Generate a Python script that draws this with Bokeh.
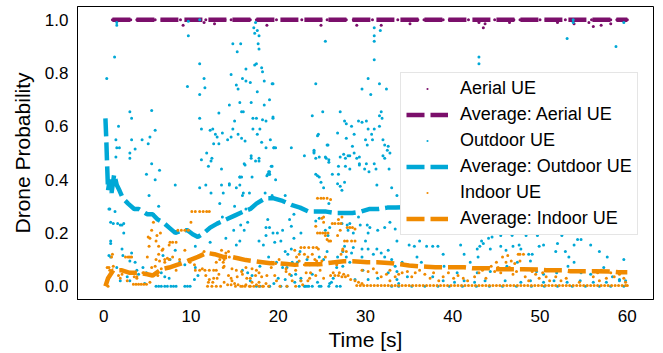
from bokeh.plotting import figure
from bokeh.models import Range1d, FixedTicker, PrintfTickFormatter, Legend, LegendItem
from bokeh.embed import file_html
from bokeh.resources import INLINE

# ---------------- data ----------------
x_ticks = [0, 10, 20, 30, 40, 50, 60]
y_ticks = [0.0, 0.2, 0.4, 0.6, 0.8, 1.0]

# Aerial UE samples lying on 1.0
aerial_top_t = [1.0, 1.6, 2.3, 3.1, 3.8, 4.4, 5.2, 5.9, 6.7, 7.3, 8.1, 8.8, 9.5, 10.2, 11.0,
                11.7, 12.4, 13.2, 13.9, 14.6, 15.3, 16.1, 16.8, 17.5, 18.3, 19.0, 19.8, 20.5,
                21.2, 22.0, 22.7, 23.4, 24.2, 24.9, 25.6, 26.4, 27.1, 27.8, 28.6, 29.3, 30.1,
                30.8, 31.5, 32.3, 33.0, 33.7, 34.5, 35.2, 36.0, 36.7, 37.4, 38.2, 38.9, 39.6,
                40.4, 41.1, 41.8, 42.6, 43.3, 44.1, 44.8, 45.5, 46.3, 47.0, 47.7, 48.5, 49.2,
                50.0, 50.7, 51.4, 52.2, 52.9, 53.6, 54.4, 55.1, 55.9, 56.6, 57.3, 58.1, 58.8,
                59.5, 60.0]
aerial_top_p = 1.0
# Aerial UE samples slightly below 1.0
aerial_low = [(9.1, 0.98), (11.5, 0.99), (12.7, 0.985), (18.7, 0.98), (24.9, 0.98), (29.0, 0.98),
              (31.8, 0.98), (35.1, 0.985), (43.0, 0.99), (43.5, 0.97), (43.7, 0.985), (53.9, 0.985),
              (55.6, 0.99), (56.1, 0.975), (57.0, 0.98), (58.1, 0.985), (52.0, 0.99), (46.5, 0.99)]

aerial_avg_t = [1.0, 10.0, 20.0, 30.0, 40.0, 50.0, 60.0]
aerial_avg_p = [1.0, 1.0, 1.0, 1.0, 1.0, 1.0, 1.0]

# Outdoor UE samples, upper part (p > 0.4)
outdoor_upper = [
    (0.35, 0.78), (1.25, 0.86), (1.5, 0.99), (1.5, 0.98), (1.7, 0.60), (1.4, 0.55), (1.5, 0.52),
    (1.8, 0.52), (1.4, 0.485), (3.0, 0.655), (3.2, 0.63), (3.2, 0.55), (3.0, 0.50), (3.0, 0.48),
    (3.6, 0.515), (4.4, 0.55), (5.1, 0.535), (5.3, 0.56), (5.5, 0.66), (5.9, 0.585), (5.5, 0.46),
    (4.9, 0.42), (6.4, 0.435), (9.7, 0.94), (9.6, 0.75), (9.7, 0.995), (11.0, 0.835), (11.0, 0.72),
    (11.5, 0.78), (11.6, 0.745), (11.0, 0.63), (11.2, 0.59), (11.2, 0.475), (11.8, 0.50),
    (12.2, 0.585), (12.5, 0.59), (12.8, 0.57), (13.0, 0.56), (12.0, 0.45), (12.3, 0.47),
    (12.4, 0.48), (12.6, 0.535), (13.2, 0.535), (13.5, 0.44), (13.2, 0.65), (13.6, 0.575),
    (14.2, 0.55), (14.4, 0.68), (14.6, 0.56), (14.8, 0.91), (15.3, 0.88), (15.7, 0.91),
    (14.6, 0.795), (15.2, 0.755), (15.4, 0.74), (15.9, 0.78), (16.3, 0.815), (16.3, 0.77),
    (16.8, 0.765), (15.6, 0.69), (15.8, 0.655), (16.0, 0.655), (15.0, 0.62), (14.8, 0.59),
    (15.4, 0.57), (15.8, 0.555), (16.2, 0.545), (15.6, 0.41), (16.2, 0.455), (16.9, 0.48),
    (17.1, 0.59), (17.1, 0.63), (16.9, 0.69), (17.0, 0.41), (17.3, 0.95), (17.2, 0.97),
    (17.4, 0.99), (17.6, 0.96), (17.8, 0.94), (17.3, 0.83), (17.5, 0.835), (17.7, 0.91),
    (17.8, 0.89), (18.1, 0.82), (18.2, 0.805), (17.6, 0.73), (18.4, 0.77), (19.0, 0.70),
    (18.4, 0.68), (17.5, 0.63), (17.9, 0.59), (17.6, 0.57), (18.2, 0.625), (18.6, 0.62),
    (18.1, 0.54), (18.6, 0.52), (19.1, 0.55), (19.4, 0.63), (19.5, 0.52), (19.7, 0.52),
    (19.3, 0.45), (18.8, 0.42), (19.0, 0.43), (17.8, 0.47), (19.3, 0.76), (21.5, 0.52),
    (23.9, 0.64), (24.1, 0.51), (24.3, 0.76), (24.6, 0.57), (24.7, 0.485), (25.1, 0.655),
    (25.4, 0.92), (25.5, 0.48), (25.7, 0.53), (24.7, 0.41), (25.8, 0.465), (11.0, 1.0),
    (16.1, 0.46), (16.9, 0.49), (17.4, 0.47), (17.8, 0.48), (18.7, 0.415), (18.9, 0.43),
    (19.2, 0.45), (19.0, 0.42), (19.7, 0.40), (23.0, 0.49), (24.1, 0.50), (24.3, 0.48),
    (25.4, 0.485), (25.8, 0.475), (26.2, 0.42), (27.1, 0.485), (28.0, 0.49), (28.2, 0.44),
    (29.3, 0.485), (29.3, 0.455), (29.9, 0.44), (30.4, 0.43), (31.2, 0.44), (32.2, 0.48),
    (32.8, 0.50), (26.9, 0.42), (24.5, 0.415), (31.0, 0.97), (31.0, 0.94), (31.0, 0.92),
    (31.7, 0.96), (31.0, 0.85), (43.0, 0.86), (43.0, 0.835), (53.8, 1.0), (53.8, 0.99),
    (53.1, 0.93), (58.7, 0.90), (59.6, 0.99), (30.3, 0.78), (29.6, 0.74), (30.6, 0.72),
    (31.6, 0.76), (32.4, 0.74), (27.1, 0.655), (27.6, 0.62), (27.8, 0.61), (28.4, 0.60),
    (26.8, 0.575), (27.8, 0.555), (28.7, 0.57), (29.2, 0.62), (29.6, 0.615), (30.1, 0.62),
    (30.3, 0.59), (30.7, 0.57), (31.0, 0.59), (30.8, 0.55), (31.6, 0.60), (31.6, 0.64),
    (31.8, 0.655), (31.9, 0.63), (30.0, 0.55), (30.2, 0.53), (32.0, 0.55), (32.2, 0.53),
    (32.6, 0.525), (32.5, 0.51), (28.5, 0.525), (28.7, 0.50), (28.2, 0.49), (27.5, 0.495),
    (27.7, 0.48), (29.0, 0.48), (29.3, 0.46), (30.1, 0.46), (31.0, 0.46), (32.0, 0.49),
    (32.7, 0.44), (26.9, 0.45), (27.7, 0.45), (19.4, 0.76), (19.4, 0.635), (24.5, 0.565),
    (25.6, 0.53), (24.1, 0.505), (19.5, 0.52)]

# Outdoor UE samples, t < 26 and p <= 0.4
outdoor_lower_a = [
    (5.9, 0.40), (5.2, 0.34), (6.3, 0.30), (5.7, 0.27), (8.2, 0.38), (0.6, 0.29), (0.7, 0.29),
    (1.3, 0.28), (0.8, 0.24), (1.9, 0.23), (2.3, 0.235), (2.3, 0.20), (0.8, 0.17), (0.8, 0.16),
    (0.6, 0.115), (0.8, 0.11), (2.1, 0.14), (2.2, 0.115), (3.2, 0.125), (3.6, 0.09), (3.0, 0.095),
    (1.5, 0.07), (2.2, 0.06), (2.7, 0.035), (3.8, 0.06), (4.0, 0.045), (4.5, 0.07), (4.9, 0.05),
    (4.7, 0.01), (1.9, 0.02), (3.0, 0.02), (6.0, 0.0), (6.3, 0.0), (6.6, 0.0), (7.0, 0.0),
    (7.3, 0.0), (7.7, 0.0), (8.0, 0.0), (8.3, 0.0), (9.3, 0.0), (9.6, 0.0), (9.9, 0.0),
    (6.6, 0.05), (7.0, 0.035), (7.5, 0.03), (6.8, 0.115), (7.6, 0.10), (8.2, 0.135), (8.7, 0.09),
    (9.3, 0.08), (9.8, 0.10), (10.5, 0.15), (10.5, 0.07), (10.8, 0.04), (10.4, 0.025),
    (11.0, 0.37), (11.7, 0.38), (12.3, 0.35), (12.2, 0.165), (13.5, 0.38), (13.7, 0.35),
    (13.3, 0.31), (14.4, 0.38), (15.2, 0.37), (15.6, 0.41), (16.0, 0.35), (16.7, 0.35),
    (16.3, 0.29), (15.2, 0.155), (15.9, 0.06), (16.5, 0.05), (17.0, 0.04), (16.8, 0.02),
    (17.5, 0.0), (17.9, 0.0), (19.0, 0.0), (19.5, 0.01), (18.6, 0.19), (19.0, 0.22), (19.9, 0.20),
    (20.3, 0.17), (20.8, 0.13), (21.0, 0.07), (21.6, 0.09), (22.0, 0.045), (22.6, 0.02),
    (23.1, 0.0), (23.5, 0.0), (23.9, 0.045), (24.5, 0.08), (24.7, 0.11), (25.2, 0.10),
    (25.6, 0.13), (24.9, 0.0), (25.9, 0.01), (19.0, 0.42), (20.8, 0.34), (21.3, 0.25),
    (21.8, 0.27), (22.6, 0.20), (24.3, 0.42), (24.9, 0.39), (25.2, 0.37), (1.1, 0.235),
    (1.6, 0.235), (2.1, 0.23), (14.4, 0.385), (15.6, 0.38), (15.8, 0.41), (18.5, 0.35),
    (19.3, 0.34), (15.9, 0.34), (15.0, 0.30), (13.6, 0.26), (14.9, 0.21), (15.7, 0.23),
    (16.1, 0.21), (16.5, 0.24), (14.0, 0.18), (15.6, 0.17), (18.8, 0.25), (18.6, 0.22),
    (19.4, 0.20), (20.5, 0.21), (21.5, 0.225), (21.8, 0.18), (19.6, 0.165), (18.3, 0.155),
    (17.8, 0.17), (21.5, 0.14), (21.1, 0.12), (22.2, 0.09), (22.5, 0.13), (23.3, 0.10),
    (23.6, 0.08), (19.8, 0.09), (20.5, 0.07), (18.9, 0.11), (17.9, 0.075), (20.0, 0.03),
    (20.8, 0.025), (21.5, 0.04), (22.6, 0.03), (21.9, 0.015), (22.4, 0.0), (23.0, 0.0),
    (23.3, 0.0), (23.9, 0.0), (24.5, 0.015), (20.3, 0.0), (21.0, 0.0), (19.0, 0.0)]

# Outdoor UE samples, t >= 24 and p <= 0.4
outdoor_lower_b = [
    (33.0, 0.37), (33.6, 0.34), (26.8, 0.385), (27.1, 0.375), (27.6, 0.39), (27.3, 0.36),
    (25.8, 0.31), (31.3, 0.38), (24.7, 0.255), (24.3, 0.245), (25.4, 0.21), (25.7, 0.19),
    (25.9, 0.22), (27.3, 0.235), (27.9, 0.23), (28.2, 0.235), (28.0, 0.21), (28.6, 0.20),
    (29.2, 0.26), (29.4, 0.23), (30.2, 0.23), (30.5, 0.22), (30.3, 0.20), (31.4, 0.21),
    (32.2, 0.22), (32.8, 0.24), (33.4, 0.215), (33.6, 0.17), (30.0, 0.17), (29.6, 0.14),
    (28.6, 0.145), (27.6, 0.15), (27.4, 0.13), (26.8, 0.11), (27.8, 0.11), (28.4, 0.125),
    (28.2, 0.09), (27.4, 0.075), (26.7, 0.07), (26.3, 0.03), (26.1, 0.015), (26.7, 0.0),
    (27.1, 0.0), (25.8, 0.0), (24.7, 0.0), (29.6, 0.11), (30.3, 0.14), (30.9, 0.12),
    (31.3, 0.14), (31.8, 0.125), (32.2, 0.11), (32.6, 0.135), (33.0, 0.10), (33.4, 0.075),
    (32.6, 0.05), (31.4, 0.03), (30.3, 0.025), (29.7, 0.06), (28.8, 0.025), (33.6, 0.025),
    (33.8, 0.01), (33.0, 0.0)]

# Outdoor UE samples, t > 33 below the legend
outdoor_lower_c = [
    (35.0, 0.155), (35.6, 0.15), (36.2, 0.17), (37.0, 0.15), (37.7, 0.15), (38.3, 0.15),
    (38.9, 0.12), (40.9, 0.155), (41.3, 0.12), (42.0, 0.09), (42.8, 0.14), (43.1, 0.15),
    (43.3, 0.17), (43.5, 0.16), (44.1, 0.18), (44.3, 0.14), (42.9, 0.11), (44.5, 0.185),
    (45.5, 0.19), (45.5, 0.15), (46.1, 0.135), (46.8, 0.19), (46.9, 0.15), (47.6, 0.155),
    (47.8, 0.14), (48.4, 0.19), (48.7, 0.12), (49.1, 0.12), (49.7, 0.19), (49.9, 0.15),
    (50.4, 0.155), (51.8, 0.13), (52.0, 0.16), (52.5, 0.19), (52.9, 0.13), (53.3, 0.11),
    (53.9, 0.155), (54.3, 0.175), (54.7, 0.175), (55.8, 0.155), (56.8, 0.13), (57.7, 0.11),
    (59.6, 0.10), (35.9, 0.11), (36.4, 0.09), (39.0, 0.075), (40.5, 0.05), (42.8, 0.05),
    (44.3, 0.055), (46.2, 0.075), (47.4, 0.09), (48.9, 0.095), (49.6, 0.055), (50.4, 0.045),
    (51.1, 0.06), (51.9, 0.05), (53.2, 0.075), (53.9, 0.09), (54.7, 0.05), (55.8, 0.045),
    (56.6, 0.055), (57.3, 0.07), (58.3, 0.035), (59.1, 0.025), (59.8, 0.02), (34.2, 0.09),
    (33.6, 0.055), (34.8, 0.035), (37.7, 0.035), (38.9, 0.02), (40.2, 0.015), (41.3, 0.02),
    (42.5, 0.015), (43.7, 0.02), (46.0, 0.02), (47.8, 0.015), (48.9, 0.02), (50.4, 0.015),
    (51.6, 0.02), (53.1, 0.015), (54.6, 0.02), (56.1, 0.015), (57.6, 0.015), (59.1, 0.02),
    (33.8, 0.0), (35.3, 0.0), (36.8, 0.0), (38.3, 0.0), (39.6, 0.0), (41.1, 0.0), (42.7, 0.0),
    (44.2, 0.0), (45.7, 0.0), (47.3, 0.0), (49.0, 0.0), (50.5, 0.0), (52.0, 0.0), (53.7, 0.0),
    (55.2, 0.0), (56.8, 0.0), (58.1, 0.0), (59.6, 0.0)]

outdoor_avg_t = [0.2, 0.3, 0.4, 0.5, 0.7, 0.9, 1.2, 1.5, 1.8, 2.2, 2.8, 3.5, 4.0, 4.5, 5.0, 5.6,
                 6.2, 6.8, 7.5, 8.2, 9.0, 9.6, 10.2, 10.8, 11.5, 12.2, 13.0, 14.0, 15.0, 16.0,
                 16.8, 17.5, 18.5, 19.5, 20.5, 21.5, 22.5, 23.5, 24.5, 25.5, 26.5, 27.5, 28.5,
                 29.5, 30.5, 31.5, 32.5, 33.5, 36.0, 40.0, 45.0, 50.0, 55.0, 60.0]
outdoor_avg_p = [0.63, 0.55, 0.45, 0.36, 0.40, 0.35, 0.42, 0.38, 0.36, 0.33, 0.31, 0.29, 0.29,
                 0.28, 0.27, 0.27, 0.25, 0.24, 0.22, 0.20, 0.21, 0.21, 0.195, 0.185, 0.20, 0.22,
                 0.235, 0.25, 0.265, 0.28, 0.29, 0.31, 0.33, 0.33, 0.32, 0.305, 0.295, 0.28, 0.28,
                 0.28, 0.275, 0.275, 0.275, 0.28, 0.29, 0.29, 0.295, 0.295, 0.30, 0.30, 0.30,
                 0.29, 0.29, 0.29]

# Indoor UE samples, t < 14
indoor_early = [
    (0.4, 0.07), (0.7, 0.06), (1.1, 0.075), (0.4, 0.02), (0.5, 0.0), (0.3, 0.01), (1.0, 0.12),
    (0.9, 0.11), (0.6, 0.07), (1.7, 0.04), (2.1, 0.045), (1.9, 0.03), (2.7, 0.02), (2.5, 0.11),
    (2.8, 0.11), (3.0, 0.11), (3.2, 0.11), (3.5, 0.035), (3.8, 0.03), (3.4, 0.007), (3.7, 0.007),
    (4.0, 0.007), (4.3, 0.007), (4.6, 0.007), (4.9, 0.007), (3.8, 0.035), (4.5, 0.05),
    (5.0, 0.11), (5.2, 0.15), (5.3, 0.18), (5.5, 0.21), (5.7, 0.24), (5.1, 0.185), (6.1, 0.19),
    (6.5, 0.20), (6.0, 0.17), (6.3, 0.15), (6.7, 0.135), (5.5, 0.07), (6.0, 0.10), (6.6, 0.065),
    (6.2, 0.04), (7.0, 0.10), (7.3, 0.105), (7.6, 0.165), (7.9, 0.165), (8.3, 0.165),
    (8.5, 0.21), (8.9, 0.21), (9.3, 0.21), (9.7, 0.21), (10.0, 0.24), (10.1, 0.28), (10.5, 0.28),
    (11.0, 0.28), (11.4, 0.28), (11.8, 0.28), (12.1, 0.28), (9.3, 0.135), (9.9, 0.09),
    (10.4, 0.08), (8.7, 0.10), (8.3, 0.06), (10.5, 0.06), (11.0, 0.06), (11.3, 0.065),
    (11.7, 0.04), (12.1, 0.025), (12.5, 0.015), (13.0, 0.03), (13.5, 0.135), (13.7, 0.09),
    (11.5, 0.13), (5.3, 0.015), (5.9, 0.075), (6.4, 0.095), (7.0, 0.09), (7.5, 0.10),
    (7.9, 0.11), (6.3, 0.12), (6.8, 0.14), (7.5, 0.155), (11.6, 0.06), (12.1, 0.06),
    (12.6, 0.06), (12.9, 0.06), (11.9, 0.0), (12.4, 0.0), (12.9, 0.0), (13.4, 0.0)]

# Indoor UE samples, 12 < t < 34
indoor_mid = [
    (12.0, 0.015), (12.6, 0.03), (13.2, 0.045), (13.8, 0.015), (14.2, 0.005), (14.6, 0.03),
    (15.0, 0.01), (15.4, 0.005), (15.9, 0.0), (16.3, 0.005), (16.7, 0.0), (17.0, 0.015),
    (17.5, 0.005), (17.8, 0.015), (18.2, 0.0), (18.6, 0.01), (15.2, 0.06), (15.9, 0.045),
    (16.8, 0.03), (17.8, 0.05), (13.3, 0.10), (13.7, 0.07), (12.9, 0.09), (14.4, 0.11),
    (16.3, 0.07), (17.5, 0.06), (19.7, 0.085), (20.1, 0.10), (20.9, 0.055), (21.6, 0.02),
    (22.0, 0.06), (22.4, 0.095), (22.6, 0.145), (23.0, 0.145), (23.5, 0.145), (24.0, 0.145),
    (24.4, 0.145), (23.0, 0.12), (24.2, 0.10), (24.8, 0.06), (25.2, 0.03), (24.5, 0.20),
    (24.8, 0.20), (25.1, 0.20), (25.4, 0.20), (25.7, 0.20), (24.5, 0.33), (24.9, 0.33),
    (25.2, 0.33), (25.6, 0.33), (26.0, 0.325), (24.3, 0.225), (25.2, 0.26), (25.0, 0.255),
    (26.0, 0.17), (22.8, 0.005), (22.0, 0.0), (14.0, 0.125), (14.3, 0.13), (13.8, 0.10),
    (13.8, 0.075), (14.3, 0.04), (14.7, 0.02), (14.6, 0.005), (15.1, 0.0), (15.7, 0.0),
    (16.2, 0.0), (16.8, 0.0), (17.2, 0.0), (17.8, 0.0), (18.3, 0.0), (18.9, 0.0), (20.2, 0.0),
    (21.0, 0.0), (14.7, 0.065), (15.3, 0.035), (15.8, 0.055), (16.4, 0.03), (17.0, 0.065),
    (17.4, 0.04), (18.1, 0.035), (18.7, 0.04), (19.2, 0.07), (19.6, 0.04), (19.8, 0.02),
    (19.2, 0.09), (20.9, 0.065), (21.3, 0.045), (21.9, 0.135), (22.4, 0.12), (22.1, 0.11),
    (23.4, 0.11), (23.9, 0.12), (24.6, 0.14), (23.0, 0.08), (23.2, 0.05), (23.7, 0.05),
    (24.3, 0.04), (23.4, 0.02), (23.6, 0.03), (22.6, 0.02), (24.4, 0.095), (25.0, 0.095),
    (25.4, 0.11), (25.2, 0.24), (25.4, 0.19), (25.6, 0.175), (25.8, 0.17), (26.2, 0.235),
    (26.5, 0.235), (26.9, 0.235), (27.1, 0.21), (27.3, 0.26), (27.9, 0.22), (28.2, 0.22),
    (28.5, 0.22), (28.8, 0.215), (27.6, 0.17), (27.9, 0.17), (28.4, 0.17), (28.8, 0.17),
    (27.4, 0.135), (27.2, 0.12), (27.8, 0.13), (26.2, 0.09), (26.7, 0.08), (26.0, 0.04),
    (26.5, 0.04), (26.9, 0.04), (27.3, 0.035), (27.7, 0.035), (28.3, 0.025), (28.8, 0.02),
    (29.2, 0.015), (29.6, 0.01), (29.6, 0.06), (30.3, 0.055), (30.9, 0.065), (31.3, 0.05),
    (31.8, 0.035), (32.4, 0.045), (32.8, 0.02), (33.4, 0.035), (33.8, 0.045), (32.8, 0.06),
    (26.9, 0.25), (27.2, 0.235), (26.8, 0.19), (27.4, 0.14), (26.3, 0.05), (27.0, 0.05),
    (27.5, 0.045), (28.0, 0.04)]

# Indoor UE samples, t > 34
indoor_late = [
    (34.2, 0.05), (34.8, 0.055), (35.3, 0.035), (35.7, 0.05), (36.2, 0.06), (36.8, 0.045),
    (37.4, 0.03), (37.8, 0.05), (38.4, 0.02), (38.9, 0.035), (39.5, 0.05), (40.1, 0.03),
    (40.6, 0.04), (41.2, 0.03), (41.7, 0.02), (42.5, 0.035), (43.0, 0.05), (43.4, 0.06),
    (43.8, 0.03), (44.4, 0.075), (44.8, 0.055), (45.0, 0.09), (45.2, 0.07), (45.5, 0.05),
    (45.7, 0.11), (46.1, 0.09), (46.3, 0.115), (46.5, 0.07), (46.7, 0.095), (46.9, 0.045),
    (47.1, 0.085), (47.3, 0.055), (47.5, 0.12), (47.7, 0.12), (48.1, 0.12), (47.7, 0.095),
    (48.3, 0.035), (48.7, 0.02), (49.1, 0.055), (49.5, 0.045), (49.9, 0.03), (50.3, 0.05),
    (50.7, 0.035), (51.1, 0.02), (51.8, 0.035), (52.4, 0.02), (53.0, 0.03), (54.5, 0.015),
    (56.1, 0.035), (56.6, 0.05), (57.0, 0.06), (57.6, 0.055), (58.1, 0.05), (58.5, 0.035),
    (59.1, 0.045), (59.6, 0.03), (59.8, 0.015), (57.6, 0.03), (56.8, 0.02)]

# Indoor UE samples along the floor (about 0.003) from 29 s to 60 s
indoor_floor_t = [29.0, 29.4, 29.8, 30.2, 30.6, 31.0, 31.4, 31.8, 32.2, 32.6, 33.0, 33.4, 33.8,
                  34.2, 34.6, 35.0, 35.4, 35.8, 36.2, 36.6, 37.0, 37.4, 37.8, 38.2, 38.6, 39.0,
                  39.4, 39.8, 40.2, 40.6, 41.0, 41.4, 41.8, 42.2, 42.6, 43.0, 43.4, 43.8, 44.2,
                  44.6, 45.0, 45.4, 45.8, 46.2, 46.6, 47.0, 47.4, 47.8, 48.2, 48.6, 49.0, 49.4,
                  49.8, 50.2, 50.6, 51.0, 51.4, 51.8, 52.2, 52.6, 53.0, 53.4, 53.8, 54.2, 54.6,
                  55.0, 55.4, 55.8, 56.2, 56.6, 57.0, 57.4, 57.8, 58.2, 58.6, 59.0, 59.4, 59.8, 60.0]
indoor_floor_p = 0.003

indoor_avg_t = [0.2, 0.5, 0.8, 1.1, 2.0, 3.0, 4.0, 5.0, 5.6, 6.7, 7.5, 8.4, 9.3, 10.0, 10.8,
                11.8, 12.7, 13.7, 14.6, 15.5, 16.3, 17.3, 18.2, 19.1, 20.1, 21.0, 21.9, 22.8,
                23.8, 24.7, 25.6, 26.5, 27.5, 28.5, 29.4, 30.2, 31.3, 32.2, 33.0, 34.0, 35.0,
                36.0, 37.0, 38.0, 39.6, 41.3, 42.4, 44.2, 45.2, 47.0, 48.0, 49.8, 50.7, 52.6,
                53.5, 55.5, 56.3, 58.1, 59.0, 60.0]
indoor_avg_p = [0.0, 0.03, 0.045, 0.06, 0.06, 0.05, 0.05, 0.045, 0.04, 0.065, 0.07, 0.08, 0.09,
                0.10, 0.11, 0.125, 0.12, 0.11, 0.11, 0.104, 0.098, 0.094, 0.09, 0.086, 0.086,
                0.083, 0.08, 0.082, 0.082, 0.082, 0.086, 0.09, 0.094, 0.094, 0.092, 0.09, 0.09,
                0.088, 0.086, 0.082, 0.078, 0.075, 0.073, 0.071, 0.071, 0.071, 0.067, 0.067,
                0.064, 0.064, 0.064, 0.063, 0.06, 0.06, 0.056, 0.056, 0.056, 0.055, 0.052, 0.052]

series_names = ["Aerial UE", "Outdoor UE", "Indoor UE"]

# ---------------- styling ----------------
PURPLE = "#7b0f6b"
CYAN = "#00a8d6"
ORANGE = "#f08a00"
FONT = "Liberation Sans"

# ---------------- assemble ----------------
aer_x = aerial_top_t + [t for t, _ in aerial_low]
aer_y = [aerial_top_p for _ in aerial_top_t] + [v for _, v in aerial_low]

out_pts = outdoor_upper + outdoor_lower_a + outdoor_lower_b + outdoor_lower_c
out_x = [t for t, _ in out_pts]
out_y = [v for _, v in out_pts]

ind_pts = indoor_early + indoor_mid + indoor_late
ind_x = [t for t, _ in ind_pts] + indoor_floor_t
ind_y = [v for _, v in ind_pts] + [indoor_floor_p for _ in indoor_floor_t]

p = figure(width=663, height=353, x_range=Range1d(-3, 63), y_range=Range1d(-0.05, 1.05),
           output_backend="svg", toolbar_location=None,
           min_border_left=77, min_border_right=10, min_border_top=6, min_border_bottom=54)

p.xgrid.visible = False
p.ygrid.visible = False
p.outline_line_color = "black"
p.outline_line_width = 1
p.background_fill_color = "white"
p.border_fill_color = "white"

DOT = 12  # "dot" marker: the drawn dot is a fraction of this size
r_aer = p.scatter(aer_x, aer_y, marker="dot", size=DOT, color=PURPLE)
r_aer_avg = p.line(aerial_avg_t, aerial_avg_p, line_color=PURPLE, line_width=4.5, line_dash="18 6")
r_out = p.scatter(out_x, out_y, marker="dot", size=DOT, color=CYAN)
r_out_avg = p.line(outdoor_avg_t, outdoor_avg_p, line_color=CYAN, line_width=4.5, line_dash="18 6")
r_ind = p.scatter(ind_x, ind_y, marker="dot", size=DOT, color=ORANGE)
r_ind_avg = p.line(indoor_avg_t, indoor_avg_p, line_color=ORANGE, line_width=4.5, line_dash="18 6")

for ax in (p.xaxis[0], p.yaxis[0]):
    ax.major_tick_out = 0
    ax.major_tick_in = 0
    ax.minor_tick_out = 0
    ax.minor_tick_in = 0
    ax.axis_line_color = "black"
    ax.axis_line_width = 1
    ax.major_label_text_font = FONT
    ax.major_label_text_font_size = "17px"
    ax.major_label_text_color = "black"
    ax.axis_label_text_font = FONT
    ax.axis_label_text_font_size = "21px"
    ax.axis_label_text_font_style = "normal"
    ax.axis_label_text_color = "black"

p.xaxis[0].ticker = FixedTicker(ticks=x_ticks)
p.yaxis[0].ticker = FixedTicker(ticks=y_ticks)
p.yaxis[0].formatter = PrintfTickFormatter(format="%.1f")
p.xaxis[0].axis_label = "Time [s]"
p.yaxis[0].axis_label = "Drone Probability"
p.xaxis[0].major_label_standoff = 10
p.yaxis[0].major_label_standoff = 9
p.xaxis[0].axis_label_standoff = 3
p.yaxis[0].axis_label_standoff = 8

legend = Legend(items=[
    LegendItem(label=series_names[0], renderers=[r_aer]),
    LegendItem(label="Average: " + series_names[0], renderers=[r_aer_avg]),
    LegendItem(label=series_names[1], renderers=[r_out]),
    LegendItem(label="Average: " + series_names[1], renderers=[r_out_avg]),
    LegendItem(label=series_names[2], renderers=[r_ind]),
    LegendItem(label="Average: " + series_names[2], renderers=[r_ind_avg]),
], location=(323, 64))
legend.label_text_font = FONT
legend.label_text_font_size = "18px"
legend.label_text_color = "black"
legend.glyph_width = 42
legend.glyph_height = 21
legend.label_height = 21
legend.spacing = 5
legend.padding = 5
legend.margin = 0
legend.label_standoff = 12
legend.border_line_color = "#cccccc"
legend.border_line_width = 1
legend.background_fill_color = "white"
legend.background_fill_alpha = 1.0
p.add_layout(legend)

open("out.html", "w").write(file_html(p, INLINE))
